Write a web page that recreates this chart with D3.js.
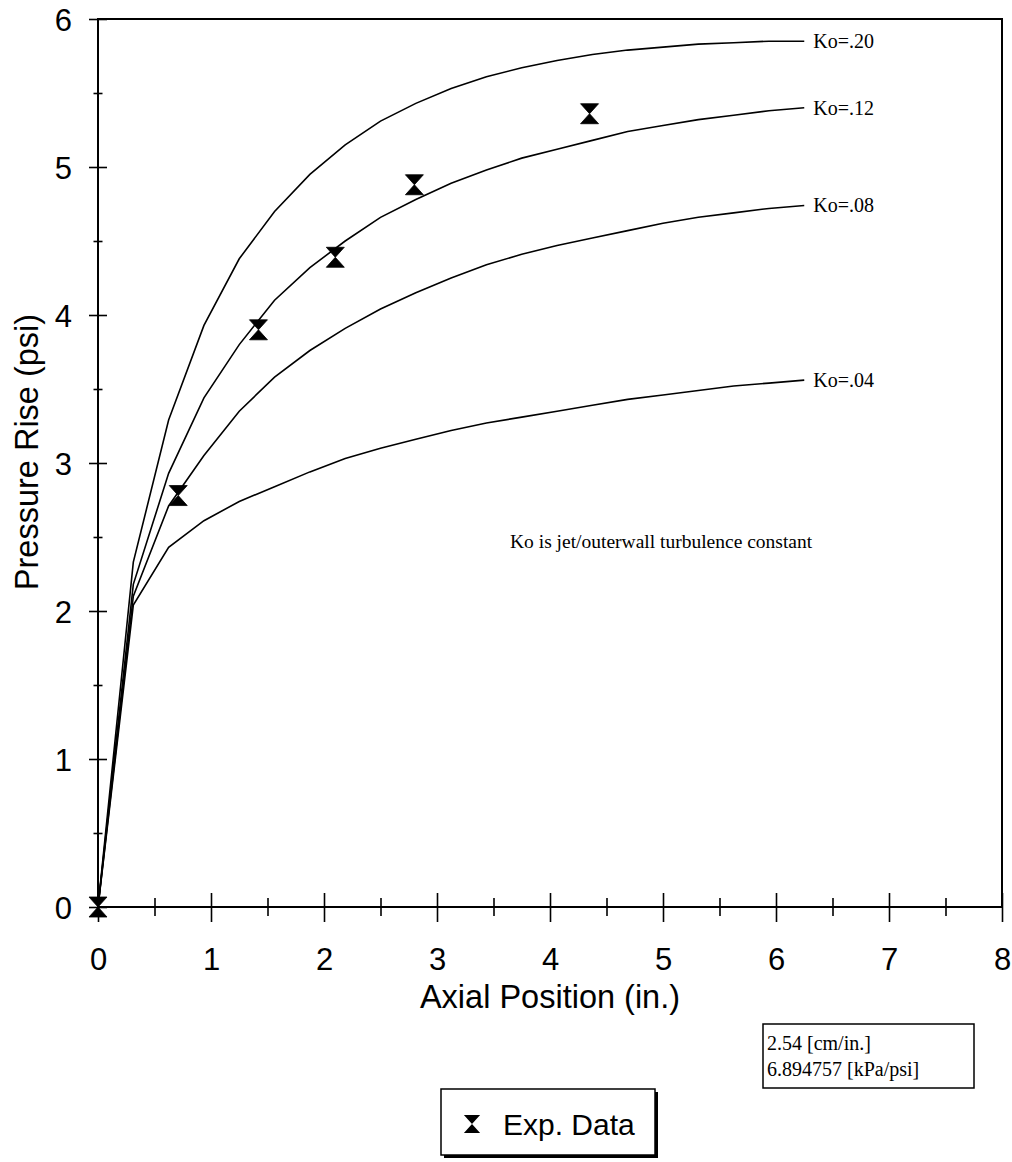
<!DOCTYPE html>
<html>
<head>
<meta charset="utf-8">
<script src="https://cdn.jsdelivr.net/npm/d3@7"></script>
<style>
  body { margin: 0; background: #fff; }
  svg { display: block; }
</style>
</head>
<body>
<svg id="chart" width="1012" height="1162"></svg>
<script>
// axial positions (in.) used by the model curves
const axialPos = [0, 0.3125, 0.625, 0.9375, 1.25, 1.5625, 1.875, 2.1875, 2.5, 2.8125, 3.125,
                  3.4375, 3.75, 4.0625, 4.375, 4.6875, 5.0, 5.3125, 5.625, 5.9375, 6.25];

// pressure rise (psi) per turbulence constant
const ko20 = [0, 2.33, 3.29, 3.93, 4.38, 4.70, 4.95, 5.15, 5.31, 5.43, 5.53,
              5.61, 5.67, 5.72, 5.76, 5.79, 5.81, 5.83, 5.84, 5.85, 5.85];
const ko12 = [0, 2.18, 2.93, 3.44, 3.80, 4.10, 4.32, 4.50, 4.66, 4.78, 4.89,
              4.98, 5.06, 5.12, 5.18, 5.24, 5.28, 5.32, 5.35, 5.38, 5.40];
const ko08 = [0, 2.10, 2.71, 3.05, 3.35, 3.58, 3.76, 3.91, 4.04, 4.15, 4.25,
              4.34, 4.41, 4.47, 4.52, 4.57, 4.62, 4.66, 4.69, 4.72, 4.74];
const ko04 = [0, 2.04, 2.43, 2.61, 2.74, 2.84, 2.94, 3.03, 3.10, 3.16, 3.22,
              3.27, 3.31, 3.35, 3.39, 3.43, 3.46, 3.49, 3.52, 3.54, 3.56];
const curveNames = ["Ko=.20", "Ko=.12", "Ko=.08", "Ko=.04"];

// experimental data
const expX = [0, 0.71, 1.42, 2.10, 2.80, 4.35];
const expY = [0, 2.78, 3.90, 4.39, 4.88, 5.36];

const svg = d3.select("#chart");

//plot frame in page pixels
const margin = {left: 98, top: 19};
const width = 904, height = 888;

const g = svg.append("g")
    .attr("transform", "translate(" + margin.left + "," + margin.top + ")");

const xScale = d3.scaleLinear().domain([0, 8]).range([0, width]);
const yScale = d3.scaleLinear().domain([0, 6]).range([height, 0]);

const sans = "'Liberation Sans', Arial, sans-serif";
const serif = "'Liberation Serif', 'Times New Roman', serif";

// frame
g.append("rect")
    .attr("width", width)
    .attr("height", height)
    .attr("fill", "none")
    .attr("stroke", "#000")
    .attr("stroke-width", 2);

// x axis, ticks cross the line
const xAxis = g.append("g")
    .attr("transform", "translate(0," + height + ")")
    .call(d3.axisBottom(xScale).tickValues(d3.range(0, 8.01, 0.5)).tickSize(0)
        .tickFormat(d => Number.isInteger(d) ? d3.format("d")(d) : ""));
xAxis.select(".domain").remove();
xAxis.selectAll(".tick line")
    .attr("y1", d => Number.isInteger(d) ? -14 : -9)
    .attr("y2", d => Number.isInteger(d) ? 15 : 9)
    .attr("stroke", "#000")
    .attr("stroke-width", 1.6);
xAxis.selectAll(".tick text")
    .attr("y", 0)
    .attr("dy", 63)
    .style("font-family", sans)
    .style("font-size", "31px")
    .attr("fill", "#000");

// y axis
const yAxis = g.append("g")
    .call(d3.axisLeft(yScale).tickValues(d3.range(0, 6.01, 0.5)).tickSize(0)
        .tickFormat(d => Number.isInteger(d) ? d3.format("d")(d) : ""));
yAxis.select(".domain").remove();
yAxis.selectAll(".tick line")
    .attr("x1", d => Number.isInteger(d) ? -9 : -4.5)
    .attr("x2", d => Number.isInteger(d) ? 9 : 4.5)
    .attr("stroke", "#000")
    .attr("stroke-width", 1.6);
yAxis.selectAll(".tick text")
    .attr("x", -26)
    .attr("dy", "0.36em")
    .style("font-family", sans)
    .style("font-size", "31px")
    .attr("fill", "#000");

// axis titles
svg.append("text")
    .attr("x", margin.left + width / 2)
    .attr("y", 1008)
    .attr("text-anchor", "middle")
    .style("font-family", sans)
    .style("font-size", "32.5px")
    .text("Axial Position (in.)");

svg.append("text")
    .attr("transform", "translate(38,452) rotate(-90)")
    .attr("text-anchor", "middle")
    .style("font-family", sans)
    .style("font-size", "32.5px")
    .text("Pressure Rise (psi)");

// model curves
const curves = [ko20, ko12, ko08, ko04];
const line = d3.line()
    .x((d, i) => xScale(axialPos[i]))
    .y(d => yScale(d));

curves.forEach((c, k) => {
    g.append("path")
        .datum(c)
        .attr("fill", "none")
        .attr("stroke", "#000")
        .attr("stroke-width", 1.6)
        .attr("d", line);

    g.append("text")
        .attr("x", xScale(axialPos[axialPos.length - 1]) + 9)
        .attr("y", yScale(c[c.length - 1]))
        .attr("dy", "0.35em")
        .style("font-family", serif)
        .style("font-size", "20px")
        .text(curveNames[k]);
});

g.append("text")
    .attr("x", 412)
    .attr("y", 529)
    .style("font-family", serif)
    .style("font-size", "19.5px")
    .text("Ko is jet/outerwall turbulence constant");

// hourglass marker
const hourglass = "M-9,-10L9,-10L0,0L9,10L-9,10L0,0Z";

g.selectAll(".exp")
    .data(expX)
    .join("path")
    .attr("class", "exp")
    .attr("transform", (d, i) => "translate(" + xScale(d) + "," + yScale(expY[i]) + ")")
    .attr("d", hourglass)
    .attr("fill", "#000")
    .attr("stroke", "#000")
    .attr("stroke-width", 0.8);

// unit conversion box
svg.append("rect")
    .attr("x", 763).attr("y", 1024)
    .attr("width", 211).attr("height", 64)
    .attr("fill", "#fff")
    .attr("stroke", "#000")
    .attr("stroke-width", 1.5);
svg.append("text")
    .attr("x", 767).attr("y", 1050)
    .style("font-family", serif)
    .style("font-size", "20px")
    .text("2.54 [cm/in.]");
svg.append("text")
    .attr("x", 767).attr("y", 1076)
    .style("font-family", serif)
    .style("font-size", "20px")
    .text("6.894757 [kPa/psi]");

// legend with drop shadow
svg.append("rect")
    .attr("x", 444).attr("y", 1092)
    .attr("width", 214).attr("height", 66)
    .attr("fill", "#000");
svg.append("rect")
    .attr("x", 441).attr("y", 1089)
    .attr("width", 214).attr("height", 66)
    .attr("fill", "#fff")
    .attr("stroke", "#000")
    .attr("stroke-width", 1.5);
svg.append("path")
    .attr("transform", "translate(472,1124) scale(0.9)")
    .attr("d", hourglass)
    .attr("fill", "#000");
svg.append("text")
    .attr("x", 503).attr("y", 1135)
    .style("font-family", sans)
    .style("font-size", "30px")
    .text("Exp. Data");
</script>
</body>
</html>
